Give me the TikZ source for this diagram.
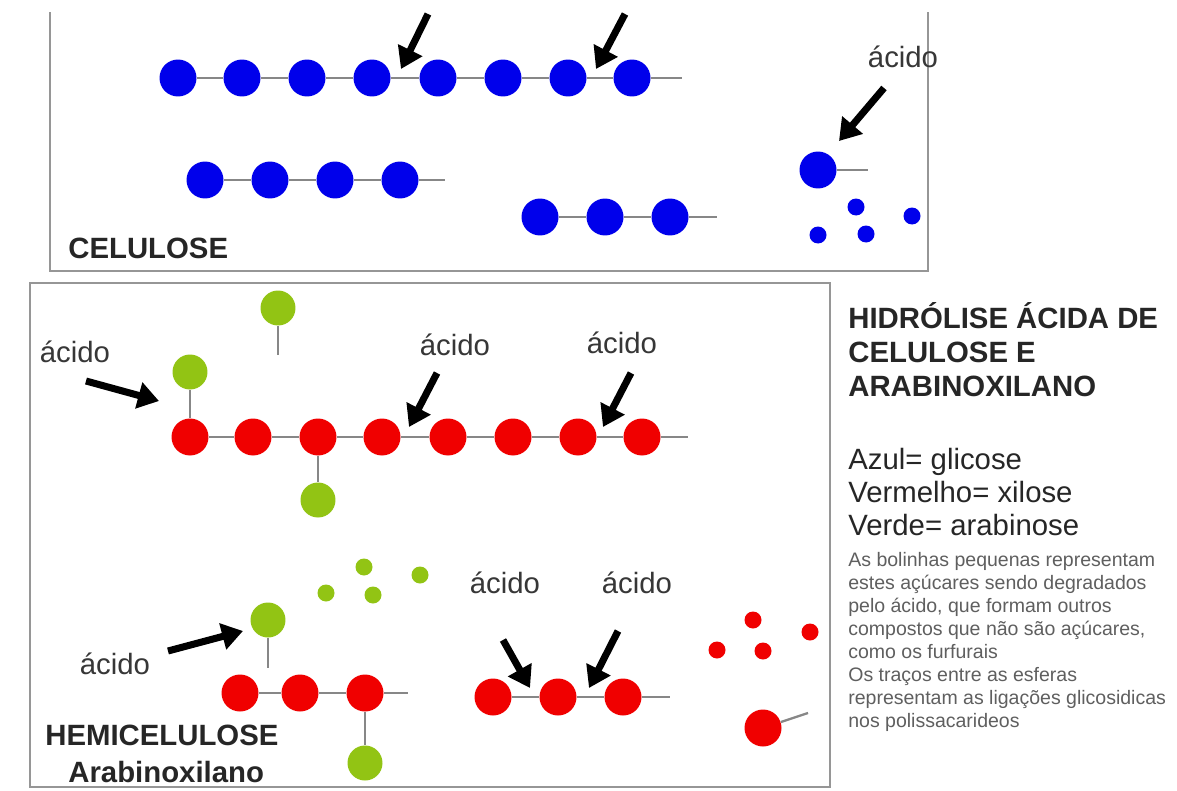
\documentclass[tikz,border=0pt]{standalone}
\usepackage{fontspec}
\setmainfont{Liberation Sans}
\usetikzlibrary{arrows.meta}

\definecolor{glcblue}{RGB}{0,0,235}
\definecolor{xylred}{RGB}{240,0,0}
\definecolor{aragreen}{RGB}{146,196,20}
\definecolor{bondgray}{RGB}{135,135,135}
\definecolor{framegray}{RGB}{150,150,150}
\definecolor{labelgray}{RGB}{55,55,55}
\definecolor{notegray}{RGB}{95,95,95}

\begin{document}
\begin{tikzpicture}[x={(0.02cm,0)}, y={(0,-0.02cm)},
    sugar/.style={circle, inner sep=0pt, minimum size=0.74cm},
    glc/.style={sugar, fill=glcblue},
    xyl/.style={sugar, fill=xylred},
    ara/.style={sugar, fill=aragreen, minimum size=0.7cm},
    crumb/.style={circle, inner sep=0pt, minimum size=0.34cm},
    bond/.style={draw=bondgray, line width=1.3pt},
    boxframe/.style={draw=framegray, line width=1.2pt},
    cleave/.style={line width=4pt, -{Triangle[length=0.42cm, width=0.52cm]}},
    acidlabel/.style={font=\fontsize{16.7}{20}\selectfont, text=labelgray, inner sep=0pt},
    titleline/.style={font=\fontsize{16.7}{20}\selectfont\bfseries, text=black!85, inner sep=0pt, anchor=base west},
    legendline/.style={font=\fontsize{16.7}{20}\selectfont, text=black!85, inner sep=0pt, anchor=base west},
    noteline/.style={font=\fontsize{11.1}{13}\selectfont, text=notegray, inner sep=0pt, anchor=base west}]

    \useasboundingbox[fill=white] (0,0) rectangle (1177,791);

    % Cellulose frame, open at the top
    \draw[boxframe] (50,12) -- (50,271) -- (928,271) -- (928,12);

    % Cellulose chain and acid cuts
    \node[glc] (c1) at (178,78) {};
    \node[glc] (c2) at (242,78) {};
    \node[glc] (c3) at (307,78) {};
    \node[glc] (c4) at (372,78) {};
    \node[glc] (c5) at (438,78) {};
    \node[glc] (c6) at (503,78) {};
    \node[glc] (c7) at (568,78) {};
    \node[glc] (c8) at (632,78) {};
    \coordinate (c8end) at (682,78);
    \draw[bond] (c1) -- (c2) -- (c3) -- (c4) -- (c5) -- (c6) -- (c7) -- (c8) -- (c8end);

    \coordinate (cutAs) at (428,14);
    \coordinate (cutAt) at (401,69);
    \draw[cleave] (cutAs) -- (cutAt);
    \coordinate (cutBs) at (625,14);
    \coordinate (cutBt) at (596,69);
    \draw[cleave] (cutBs) -- (cutBt);

    % Cellulose fragments
    \node[glc] (d1) at (205,180) {};
    \node[glc] (d2) at (270,180) {};
    \node[glc] (d3) at (335,180) {};
    \node[glc] (d4) at (400,180) {};
    \coordinate (d4end) at (445,180);
    \draw[bond] (d1) -- (d2) -- (d3) -- (d4) -- (d4end);

    \node[glc] (e1) at (540,217) {};
    \node[glc] (e2) at (605,217) {};
    \node[glc] (e3) at (670,217) {};
    \coordinate (e3end) at (717,217);
    \draw[bond] (e1) -- (e2) -- (e3) -- (e3end);

    % Free glucose and degraded bits
    \node[acidlabel] (acidG) at (903,57) {ácido};
    \coordinate (cutGs) at (884,88);
    \coordinate (cutGt) at (839,141);
    \draw[cleave] (cutGs) -- (cutGt);
    \node[glc] (g1) at (818,170) {};
    \coordinate (g1end) at (868,170);
    \draw[bond] (g1) -- (g1end);
    \node[crumb, fill=glcblue] (gb1) at (856,207) {};
    \node[crumb, fill=glcblue] (gb2) at (912,216) {};
    \node[crumb, fill=glcblue] (gb3) at (818,235) {};
    \node[crumb, fill=glcblue] (gb4) at (866,234) {};

    \node[titleline] (celtitle) at (68,258) {CELULOSE};

    % Hemicellulose frame
    \draw[boxframe] (30,283) rectangle (830,787);

    % Arabinoxylan chain with side arabinoses
    \node[xyl] (x1) at (190,437) {};
    \node[xyl] (x2) at (253,437) {};
    \node[xyl] (x3) at (318,437) {};
    \node[xyl] (x4) at (382,437) {};
    \node[xyl] (x5) at (448,437) {};
    \node[xyl] (x6) at (513,437) {};
    \node[xyl] (x7) at (578,437) {};
    \node[xyl] (x8) at (642,437) {};
    \coordinate (x8end) at (688,437);
    \draw[bond] (x1) -- (x2) -- (x3) -- (x4) -- (x5) -- (x6) -- (x7) -- (x8) -- (x8end);

    \node[ara] (a1) at (190,372) {};
    \draw[bond] (x1) -- (a1);
    \node[ara] (a2) at (278,308) {};
    \coordinate (a2end) at (278,355);
    \draw[bond] (a2) -- (a2end);
    \node[ara] (a3) at (318,500) {};
    \draw[bond] (x3) -- (a3);

    \node[acidlabel] (acidL) at (75,352) {ácido};
    \coordinate (cutLs) at (86,381);
    \coordinate (cutLt) at (159,401);
    \draw[cleave] (cutLs) -- (cutLt);
    \node[acidlabel] (acidM) at (455,345) {ácido};
    \coordinate (cutMs) at (437,373);
    \coordinate (cutMt) at (409,427);
    \draw[cleave] (cutMs) -- (cutMt);
    \node[acidlabel] (acidR) at (622,343) {ácido};
    \coordinate (cutRs) at (631,373);
    \coordinate (cutRt) at (603,427);
    \draw[cleave] (cutRs) -- (cutRt);

    % Released arabinose
    \node[crumb, fill=aragreen] (ab1) at (326,593) {};
    \node[crumb, fill=aragreen] (ab2) at (364,567) {};
    \node[crumb, fill=aragreen] (ab3) at (373,595) {};
    \node[crumb, fill=aragreen] (ab4) at (420,575) {};
    \node[ara] (a4) at (268,620) {};
    \coordinate (a4end) at (268,668);
    \draw[bond] (a4) -- (a4end);
    \node[acidlabel] (acidS) at (115,664) {ácido};
    \coordinate (cutSs) at (168,651);
    \coordinate (cutSt) at (243,631);
    \draw[cleave] (cutSs) -- (cutSt);

    % Xylan fragments
    \node[xyl] (y1) at (240,693) {};
    \node[xyl] (y2) at (300,693) {};
    \node[xyl] (y3) at (365,693) {};
    \coordinate (y3end) at (408,693);
    \draw[bond] (y1) -- (y2) -- (y3) -- (y3end);
    \node[ara] (a5) at (365,763) {};
    \draw[bond] (y3) -- (a5);

    \node[acidlabel] (acidP) at (505,583) {ácido};
    \node[acidlabel] (acidQ) at (637,583) {ácido};
    \node[xyl] (z1) at (493,697) {};
    \node[xyl] (z2) at (558,697) {};
    \node[xyl] (z3) at (623,697) {};
    \coordinate (z3end) at (670,697);
    \draw[bond] (z1) -- (z2) -- (z3) -- (z3end);
    \coordinate (cutPs) at (503,640);
    \coordinate (cutPt) at (530,688);
    \draw[cleave] (cutPs) -- (cutPt);
    \coordinate (cutQs) at (618,631);
    \coordinate (cutQt) at (589,688);
    \draw[cleave] (cutQs) -- (cutQt);

    % Free xylose and degraded bits
    \node[crumb, fill=xylred] (xb1) at (753,620) {};
    \node[crumb, fill=xylred] (xb2) at (810,632) {};
    \node[crumb, fill=xylred] (xb3) at (717,650) {};
    \node[crumb, fill=xylred] (xb4) at (763,651) {};
    \node[xyl] (r1) at (763,728) {};
    \coordinate (r1end) at (808,713);
    \draw[bond] (r1) -- (r1end);

    \node[titleline] (hemtitle) at (45,745) {HEMICELULOSE};
    \node[titleline] (hemsub) at (68,782) {Arabinoxilano};

    % Title, legend and note
    \node[titleline] (t1) at (848,328) {HIDRÓLISE ÁCIDA DE};
    \node[titleline] (t2) at (848,362) {CELULOSE E};
    \node[titleline] (t3) at (848,396) {ARABINOXILANO};

    \node[legendline] (k1) at (848,469) {Azul= glicose};
    \node[legendline] (k2) at (848,502) {Vermelho= xilose};
    \node[legendline] (k3) at (848,535) {Verde= arabinose};

    \node[noteline] (n1) at (848,566) {As bolinhas pequenas representam};
    \node[noteline] (n2) at (848,589) {estes açúcares sendo degradados};
    \node[noteline] (n3) at (848,612) {pelo ácido, que formam outros};
    \node[noteline] (n4) at (848,635) {compostos que não são açúcares,};
    \node[noteline] (n5) at (848,658) {como os furfurais};
    \node[noteline] (n6) at (848,681) {Os traços entre as esferas};
    \node[noteline] (n7) at (848,704) {representam as ligações glicosidicas};
    \node[noteline] (n8) at (848,727) {nos polissacarideos};

\end{tikzpicture}
\end{document}
